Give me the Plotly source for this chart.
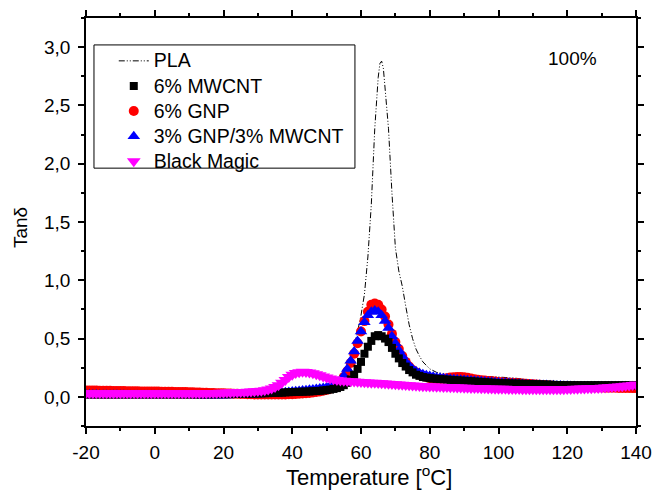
import plotly.graph_objects as go

# Temperature grid (°C) for the marker series
temps = list(range(-20, 141))

mwcnt = [
    0.02, 0.02, 0.02, 0.02, 0.02, 0.02, 0.02, 0.02, 0.02, 0.02,
    0.02, 0.02, 0.02, 0.02, 0.02, 0.02, 0.02, 0.02, 0.02, 0.02,
    0.02, 0.02, 0.02, 0.02, 0.02, 0.02, 0.02, 0.02, 0.02, 0.02,
    0.02, 0.02, 0.02, 0.02, 0.02, 0.021, 0.021, 0.021, 0.022, 0.022,
    0.022, 0.023, 0.023, 0.024, 0.024, 0.025, 0.025, 0.026, 0.027, 0.028,
    0.029, 0.03, 0.031, 0.032, 0.033, 0.034, 0.035, 0.036, 0.038, 0.04,
    0.041, 0.042, 0.043, 0.044, 0.045, 0.046, 0.048, 0.05, 0.052, 0.055,
    0.058, 0.062, 0.068, 0.075, 0.085, 0.1, 0.12, 0.15, 0.19, 0.24,
    0.30, 0.37, 0.43, 0.48, 0.52, 0.53, 0.52, 0.50, 0.47, 0.42,
    0.37, 0.33, 0.29, 0.26, 0.23, 0.21, 0.19, 0.18, 0.17, 0.165,
    0.16, 0.157, 0.155, 0.152, 0.15, 0.148, 0.146, 0.144, 0.142, 0.14,
    0.138, 0.136, 0.134, 0.132, 0.13, 0.128, 0.126, 0.124, 0.122, 0.12,
    0.119, 0.118, 0.117, 0.116, 0.115, 0.114, 0.113, 0.112, 0.111, 0.11,
    0.109, 0.108, 0.107, 0.106, 0.105, 0.104, 0.103, 0.102, 0.101, 0.1,
    0.1, 0.1, 0.1, 0.1, 0.1, 0.1, 0.1, 0.1, 0.1, 0.1,
    0.1, 0.1, 0.1, 0.1, 0.1, 0.1, 0.1, 0.1, 0.1, 0.1,
    0.1,
]

gnp = [
    0.055, 0.055, 0.054, 0.054, 0.053, 0.053, 0.052, 0.052, 0.051, 0.051,
    0.05, 0.05, 0.049, 0.049, 0.048, 0.048, 0.047, 0.047, 0.046, 0.046,
    0.045, 0.045, 0.044, 0.044, 0.043, 0.043, 0.042, 0.042, 0.041, 0.041,
    0.04, 0.039, 0.038, 0.037, 0.036, 0.035, 0.034, 0.033, 0.032, 0.031,
    0.03, 0.029, 0.028, 0.027, 0.026, 0.025, 0.024, 0.023, 0.022, 0.021,
    0.02, 0.02, 0.02, 0.02, 0.02, 0.02, 0.02, 0.02, 0.021, 0.022,
    0.023, 0.025, 0.027, 0.029, 0.031, 0.034, 0.037, 0.041, 0.046, 0.052,
    0.06, 0.07, 0.082, 0.1, 0.13, 0.17, 0.22, 0.29, 0.37, 0.46,
    0.56, 0.65, 0.73, 0.79, 0.80, 0.79, 0.75, 0.69, 0.62, 0.54,
    0.47, 0.41, 0.35, 0.30, 0.26, 0.23, 0.21, 0.19, 0.18, 0.17,
    0.16, 0.155, 0.152, 0.153, 0.156, 0.16, 0.165, 0.168, 0.17, 0.17,
    0.168, 0.164, 0.158, 0.152, 0.147, 0.143, 0.14, 0.137, 0.134, 0.131,
    0.128, 0.126, 0.124, 0.122, 0.12, 0.118, 0.116, 0.114, 0.112, 0.11,
    0.108, 0.106, 0.104, 0.102, 0.1, 0.098, 0.096, 0.094, 0.092, 0.09,
    0.089, 0.088, 0.087, 0.086, 0.085, 0.084, 0.083, 0.082, 0.081, 0.08,
    0.08, 0.079, 0.079, 0.078, 0.078, 0.077, 0.077, 0.076, 0.076, 0.075,
    0.075,
]

hybrid = [
    0.02, 0.02, 0.02, 0.02, 0.019, 0.019, 0.019, 0.019, 0.018, 0.018,
    0.018, 0.018, 0.017, 0.017, 0.017, 0.017, 0.016, 0.016, 0.016, 0.016,
    0.015, 0.015, 0.015, 0.015, 0.014, 0.014, 0.014, 0.014, 0.013, 0.013,
    0.013, 0.013, 0.013, 0.012, 0.012, 0.012, 0.012, 0.012, 0.012, 0.012,
    0.012, 0.012, 0.013, 0.013, 0.014, 0.015, 0.016, 0.017, 0.018, 0.02,
    0.021, 0.023, 0.025, 0.027, 0.029, 0.031, 0.033, 0.036, 0.039, 0.042,
    0.045, 0.048, 0.051, 0.054, 0.057, 0.06, 0.064, 0.068, 0.072, 0.077,
    0.083, 0.09, 0.1, 0.115, 0.14, 0.18, 0.24, 0.31, 0.39, 0.48,
    0.56, 0.64, 0.70, 0.73, 0.74, 0.73, 0.70, 0.65, 0.59, 0.52,
    0.46, 0.40, 0.35, 0.30, 0.27, 0.24, 0.22, 0.205, 0.195, 0.185,
    0.178, 0.172, 0.167, 0.163, 0.16, 0.157, 0.154, 0.151, 0.148, 0.146,
    0.144, 0.142, 0.14, 0.138, 0.136, 0.134, 0.132, 0.13, 0.128, 0.126,
    0.124, 0.122, 0.12, 0.118, 0.116, 0.114, 0.112, 0.11, 0.108, 0.106,
    0.105, 0.104, 0.103, 0.102, 0.101, 0.1, 0.099, 0.098, 0.097, 0.096,
    0.095, 0.094, 0.093, 0.092, 0.091, 0.09, 0.09, 0.09, 0.09, 0.09,
    0.09, 0.09, 0.09, 0.09, 0.09, 0.09, 0.09, 0.09, 0.09, 0.09,
    0.09,
]

black_magic = [
    0.03, 0.03, 0.03, 0.03, 0.03, 0.03, 0.03, 0.03, 0.03, 0.03,
    0.03, 0.03, 0.03, 0.03, 0.03, 0.03, 0.03, 0.03, 0.03, 0.03,
    0.03, 0.03, 0.03, 0.03, 0.03, 0.03, 0.03, 0.03, 0.03, 0.03,
    0.03, 0.03, 0.031, 0.031, 0.032, 0.032, 0.033, 0.033, 0.034, 0.035,
    0.036, 0.037, 0.038, 0.039, 0.04, 0.041, 0.042, 0.044, 0.046, 0.048,
    0.05, 0.053, 0.057, 0.063, 0.072, 0.085, 0.1, 0.12, 0.145, 0.17,
    0.19, 0.205, 0.212, 0.215, 0.214, 0.21, 0.203, 0.195, 0.185, 0.175,
    0.165, 0.157, 0.15, 0.145, 0.141, 0.138, 0.136, 0.134, 0.132, 0.13,
    0.128, 0.126, 0.124, 0.122, 0.12, 0.118, 0.116, 0.114, 0.112, 0.11,
    0.108, 0.106, 0.104, 0.102, 0.1, 0.098, 0.096, 0.094, 0.092, 0.09,
    0.089, 0.088, 0.087, 0.086, 0.085, 0.084, 0.083, 0.082, 0.081, 0.08,
    0.079, 0.078, 0.077, 0.076, 0.075, 0.074, 0.073, 0.072, 0.071, 0.07,
    0.07, 0.069, 0.069, 0.068, 0.068, 0.067, 0.067, 0.066, 0.066, 0.066,
    0.066, 0.066, 0.066, 0.066, 0.066, 0.066, 0.066, 0.066, 0.066, 0.066,
    0.067, 0.068, 0.069, 0.07, 0.071, 0.072, 0.073, 0.074, 0.075, 0.077,
    0.079, 0.081, 0.083, 0.085, 0.087, 0.089, 0.092, 0.095, 0.098, 0.102,
    0.106,
]

# PLA reference curve (line)
pla_temps = [-20, -10, 0, 10, 20, 30, 40, 45, 50, 52, 54, 56, 57, 58, 59, 60, 61, 62, 63, 64,
             65, 65.5, 66, 66.5, 67, 68, 69, 70, 71, 72, 73, 74, 75, 76, 77, 78, 80, 82, 85,
             90, 95, 100, 103, 105, 110, 120, 130, 140]
pla = [0.04, 0.04, 0.04, 0.04, 0.045, 0.05, 0.06, 0.07, 0.1, 0.13, 0.18, 0.27, 0.34, 0.43, 0.56,
       0.70, 0.88, 1.2, 1.65, 2.3, 2.74, 2.86, 2.88, 2.82, 2.65, 2.3, 1.75, 1.28, 1.08, 0.95,
       0.78, 0.62, 0.5, 0.41, 0.35, 0.3, 0.24, 0.21, 0.19, 0.18, 0.175, 0.17, 0.165, 0.16,
       0.14, 0.11, 0.1, 0.1]

x_ticks = [-20, 0, 20, 40, 60, 80, 100, 120, 140]
x_tick_text = ["-20", "0", "20", "40", "60", "80", "100", "120", "140"]
y_ticks = [0.0, 0.5, 1.0, 1.5, 2.0, 2.5, 3.0]

FONT = "Arial, 'Liberation Sans', sans-serif"


def lg(name):
    return '<span style="font-size:19.5px">' + name + "</span>"


fig = go.Figure()
fig.add_trace(go.Scatter(x=pla_temps, y=pla, mode="lines", name=lg("PLA"), legendrank=1,
                         line=dict(color="black", width=1, dash="6px,2px,1px,2px,1px,2px")))
fig.add_trace(go.Scatter(x=temps, y=gnp, mode="markers", name=lg("6% GNP"), legendrank=3,
                         marker=dict(symbol="circle", color="#ff0000", size=10, line=dict(width=0))))
fig.add_trace(go.Scatter(x=temps, y=hybrid, mode="markers", name=lg("3% GNP/3% MWCNT"), legendrank=4,
                         marker=dict(symbol="triangle-up", color="#0000ff", size=11, line=dict(width=0))))
fig.add_trace(go.Scatter(x=temps, y=mwcnt, mode="markers", name=lg("6% MWCNT"), legendrank=2,
                         marker=dict(symbol="square", color="black", size=8, line=dict(width=0))))
fig.add_trace(go.Scatter(x=temps, y=black_magic, mode="markers", name=lg("Black Magic"), legendrank=5,
                         marker=dict(symbol="triangle-down", color="#ff00ff", size=12, line=dict(width=0))))

axis_common = dict(showline=True, linecolor="black", linewidth=1.5, mirror="allticks",
                   ticks="outside", ticklen=6, tickwidth=1.5, tickcolor="black",
                   showgrid=False, zeroline=False, automargin=False,
                   tickfont=dict(family=FONT, size=19, color="black"))

fig.update_layout(
    width=655, height=491,
    margin=dict(l=86, r=19, t=18, b=65, autoexpand=False),
    paper_bgcolor="white", plot_bgcolor="white",
    separators=", ",
    font=dict(family=FONT, color="black"),
    xaxis=dict(range=[-20, 140], tickvals=x_ticks, ticktext=x_tick_text, ticklabelstandoff=2,
               minor=dict(dtick=10, ticks="outside", ticklen=3, tickwidth=1.5, tickcolor="black"),
               **axis_common),
    yaxis=dict(range=[-0.25, 3.25], tickvals=y_ticks, tickformat=".1f", ticklabelstandoff=4,
               minor=dict(dtick=0.25, tick0=0, ticks="outside", ticklen=3, tickwidth=1.5, tickcolor="black"),
               **axis_common),
    legend=dict(x=0.0505, y=0.938, xanchor="left", yanchor="top",
                bgcolor="rgba(0,0,0,0)", borderwidth=0,
                font=dict(family=FONT, size=17, color="black"),
                itemwidth=30, tracegroupgap=0),
    showlegend=True,
    shapes=[dict(type="rect", xref="paper", yref="paper",
                 x0=0.0145, x1=0.489, y0=0.632, y1=0.934,
                 line=dict(color="black", width=1), fillcolor="white", layer="below")],
    annotations=[
        dict(text="100%", x=0.885, y=0.9, xref="paper", yref="paper",
             xanchor="center", yanchor="middle", showarrow=False,
             font=dict(family=FONT, size=19, color="black")),
        dict(text="Temperature [<sup>o</sup>C]", x=0.514, y=-0.122, xref="paper", yref="paper",
             xanchor="center", yanchor="middle", showarrow=False,
             font=dict(family=FONT, size=22, color="black")),
        dict(text="Tanδ", x=-0.12, y=0.485, xref="paper", yref="paper", textangle=-90,
             xanchor="center", yanchor="middle", showarrow=False,
             font=dict(family=FONT, size=19, color="black")),
    ],
)

fig.write_html("out.html")
